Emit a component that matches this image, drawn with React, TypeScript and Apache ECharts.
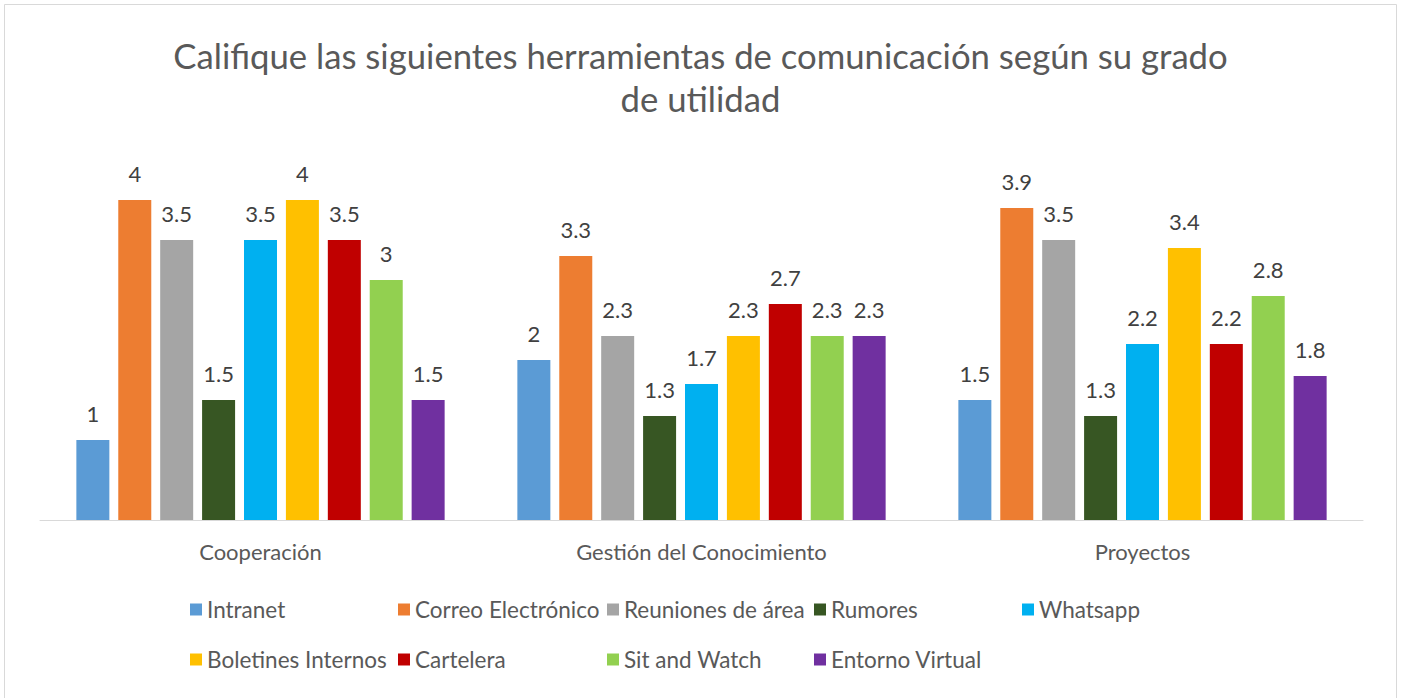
import React, { useEffect, useRef } from "react";
import * as echarts from "echarts";

const titleLines = ["Califique las siguientes herramientas de comunicación según su grado", "de utilidad"];
const categories = ["Cooperación", "Gestión del Conocimiento", "Proyectos"];
const seriesNames = [
  "Intranet",
  "Correo Electrónico",
  "Reuniones de área",
  "Rumores",
  "Whatsapp",
  "Boletines Internos",
  "Cartelera",
  "Sit and Watch",
  "Entorno Virtual",
];
const intranet = [1, 2, 1.5];
const correo = [4, 3.3, 3.9];
const reuniones = [3.5, 2.3, 3.5];
const rumores = [1.5, 1.3, 1.3];
const whatsapp = [3.5, 1.7, 2.2];
const boletines = [4, 2.3, 3.4];
const cartelera = [3.5, 2.7, 2.2];
const sitWatch = [3, 2.3, 2.8];
const entorno = [1.5, 2.3, 1.8];
const seriesValues = [intranet, correo, reuniones, rumores, whatsapp, boletines, cartelera, sitWatch, entorno];
const colors = ["#5B9BD5", "#ED7D31", "#A5A5A5", "#375623", "#00B0F0", "#FFC000", "#C00000", "#92D050", "#7030A0"];

const FONT = "Lato, 'Open Sans', sans-serif";

export default function App() {
  const ref = useRef<HTMLDivElement>(null);
  useEffect(() => {
    if (!ref.current) return;
    const chart = echarts.init(ref.current, undefined, { renderer: "svg" });
    const legendCols = [190, 398, 607, 814, 1022];
    const legendRows = [598, 648];
    const legends = seriesNames.map((name, i) => ({
      data: [name],
      left: legendCols[i % 5],
      top: legendRows[Math.floor(i / 5)],
      padding: 0,
      itemWidth: 12,
      itemHeight: 12,
      itemGap: 6,
      icon: "rect",
      selectedMode: false,
      textStyle: { fontFamily: FONT, fontSize: 22.5, color: "#595959", padding: [0, 0, 0, 0] },
    }));
    const titleStyle = { fontFamily: FONT, fontSize: 34.7, fontWeight: "normal", color: "#595959" };
    chart.setOption({
      animation: false,
      color: colors,
      textStyle: { fontFamily: FONT },
      title: [
        { text: titleLines[0], left: "center", top: 38, padding: 0, textStyle: titleStyle },
        { text: titleLines[1], left: "center", top: 81, padding: 0, textStyle: titleStyle },
      ],
      graphic: [
        {
          type: "rect",
          shape: { x: 4.5, y: 4.5, width: 1392, height: 700 },
          style: { fill: "none", stroke: "#D9D9D9", lineWidth: 1 },
          silent: true,
        },
      ],
      legend: legends,
      grid: { left: 40, right: 38, top: 120, bottom: 178, containLabel: false },
      xAxis: {
        type: "category",
        data: categories,
        axisLine: { lineStyle: { color: "#D9D9D9", width: 1 } },
        axisTick: { show: false },
        axisLabel: { fontFamily: FONT, fontSize: 22, color: "#595959", margin: 20 },
      },
      yAxis: {
        type: "value",
        min: 0,
        max: 5,
        show: false,
        splitLine: { show: false },
      },
      series: seriesNames.map((name, i) => ({
        name,
        type: "bar",
        data: seriesValues[i],
        barWidth: 33,
        barGap: "27%",
        itemStyle: { color: colors[i] },
        label: {
          show: true,
          position: "top",
          distance: 16,
          fontFamily: FONT,
          fontSize: 22,
          color: "#404040",
        },
      })),
    });
    return () => chart.dispose();
  }, []);
  return (
    <div
      ref={ref}
      style={{ position: "absolute", left: 0, top: 0, width: 1401, height: 698, background: "#fff" }}
    />
  );
}
